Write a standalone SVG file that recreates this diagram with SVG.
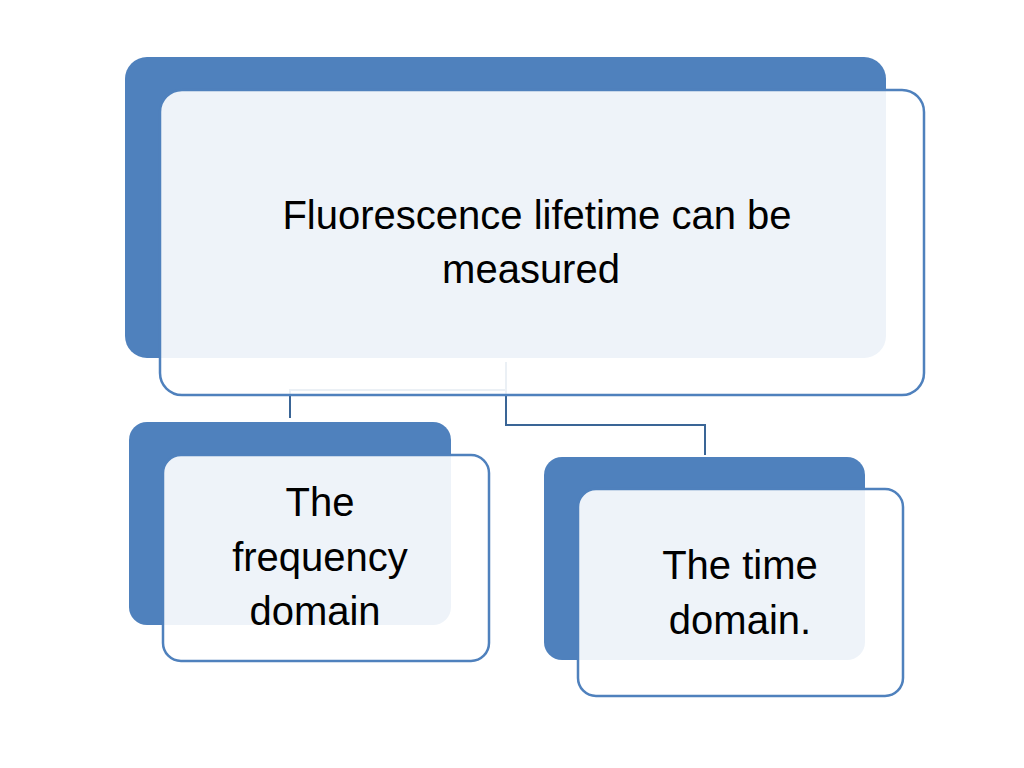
<svg xmlns="http://www.w3.org/2000/svg" width="1024" height="768" viewBox="0 0 1024 768">
<style>
.back{fill:#4F81BD}
.front{fill:#ffffff;fill-opacity:0.9;stroke:#4F81BD;stroke-width:2.5}
.conn{fill:none;stroke:#3A6596;stroke-width:2}
text{font-family:"Liberation Sans","Open Sans",sans-serif;font-size:40px;fill:#000;text-anchor:middle}
</style>
<rect width="1024" height="768" fill="#fff"/>
<g id="connectors">
<path class="conn" d="M506,362 V390 H290 V418"/>
<path class="conn" d="M506,362 V425 H705 V455"/>
</g>
<g id="node-top">
<rect class="back" x="125" y="57" width="761" height="301" rx="22"/>
<rect class="front" x="160" y="90" width="764" height="305" rx="22"/>
<text x="537" y="229">Fluorescence lifetime can be</text>
<text x="531" y="283">measured</text>
</g>
<g id="node-frequency">
<rect class="back" x="129" y="422" width="322" height="203" rx="18"/>
<rect class="front" x="163" y="455" width="326" height="206" rx="18"/>
<text x="320" y="516">The</text>
<text x="320" y="571">frequency</text>
<text x="315" y="625">domain</text>
</g>
<g id="node-time">
<rect class="back" x="544" y="457" width="321" height="203" rx="18"/>
<rect class="front" x="578" y="489" width="325" height="207" rx="18"/>
<text x="740" y="579">The time</text>
<text x="740" y="634">domain.</text>
</g>
</svg>
